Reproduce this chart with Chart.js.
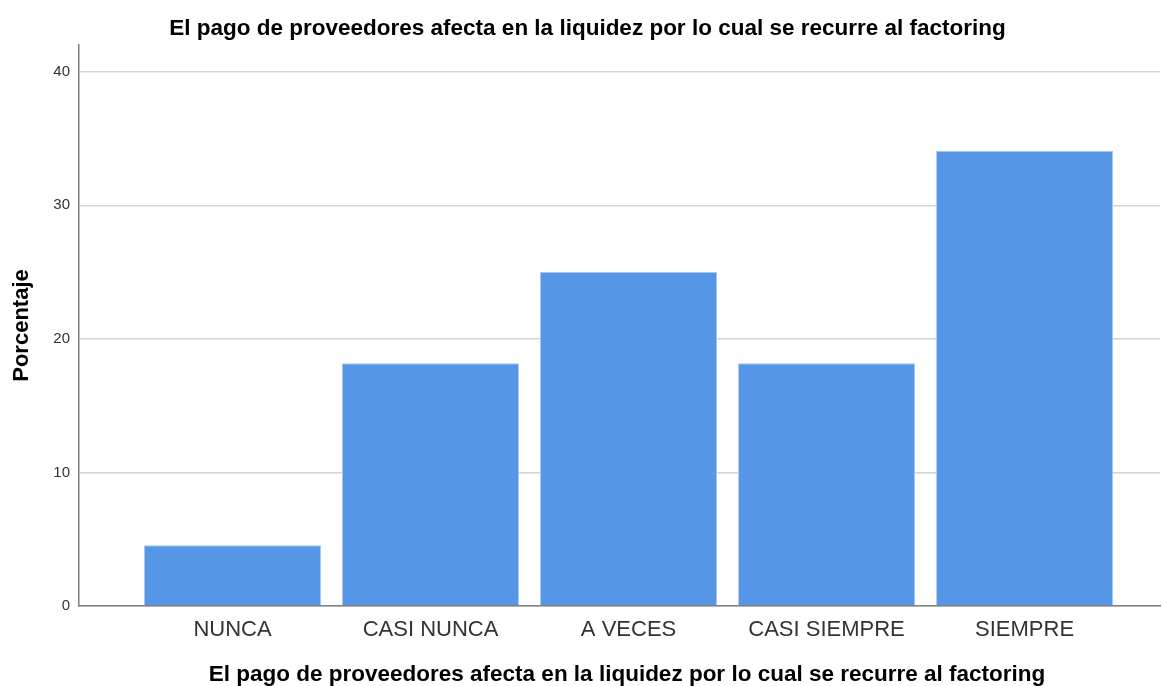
<!DOCTYPE html>
<html>
<head>
<meta charset="utf-8">
<script src="https://cdn.jsdelivr.net/npm/chart.js@4.4.1/dist/chart.umd.min.js"></script>
<style>
  html, body { margin: 0; padding: 0; background: #fff; }
  #wrap { width: 1163px; height: 686px; }
</style>
</head>
<body>
<div id="wrap"><canvas id="chart" width="1163" height="686"></canvas></div>
<script>
// datos (porcentaje, n = 44)
const categorias = ['NUNCA', 'CASI NUNCA', 'A VECES', 'CASI SIEMPRE', 'SIEMPRE'];
const porcentajes = [4.55, 18.18, 25.0, 18.18, 34.09];
const yTicks = [0, 10, 20, 30, 40];

const titulo = 'El pago de proveedores afecta en la liquidez por lo cual se recurre al factoring';
const fuente = '"Liberation Sans", Arial, sans-serif';

// barras en eje lineal para poder dejar el margen izquierdo como en SPSS
const puntos = categorias.map((c, i) => ({ x: i, y: porcentajes[i] }));

// SPSS centra los titulos un poco a la derecha
const moverTitulos = {
    id: 'moverTitulos',
    afterLayout(chart) {
        chart.boxes.forEach(b => {
            if (!b.options || b.options.text !== titulo) return;
            if (b.options.position === 'top') b.left += 15;
            if (b.options.position === 'bottom') b.left += 94;
        });
    }
};

new Chart(document.getElementById('chart'), {
    type: 'bar',
    data: {
        datasets: [{
            data: puntos,
            backgroundColor: '#5596e6',
            borderColor: '#a7c7f0',
            borderWidth: 1,
            categoryPercentage: 1,
            barPercentage: 0.894
        }]
    },
    plugins: [moverTitulos],
    options: {
        responsive: false,
        animation: false,
        events: [],
        layout: { padding: { left: 0, right: 3, top: 0, bottom: 0 } },
        plugins: {
            legend: { display: false },
            tooltip: { enabled: false },
            title: {
                display: true,
                text: titulo,
                color: '#000',
                font: { family: fuente, size: 22.5, weight: 'bold' },
                padding: { top: 14.8, bottom: 3.2 }
            },
            subtitle: {
                display: true,
                position: 'bottom',
                text: titulo,
                color: '#000',
                font: { family: fuente, size: 22.5, weight: 'bold', lineHeight: 1 },
                padding: { top: 0, bottom: 0 }
            }
        },
        scales: {
            x: {
                type: 'linear',
                offset: false,
                min: -0.7753,
                max: 4.684,
                afterBuildTicks: s => { s.ticks = categorias.map((c, i) => ({ value: i })); },
                afterFit: s => { s.height = 57.5; },
                grid: { display: false },
                border: { display: true, color: '#7f7f7f', width: 1.5 },
                ticks: {
                    callback: v => categorias[v] ?? '',
                    color: '#333',
                    font: { family: fuente, size: 22 },
                    padding: 3,
                    maxRotation: 0,
                    autoSkip: false
                }
            },
            y: {
                min: 0,
                max: 42,
                afterBuildTicks: s => { s.ticks = yTicks.map(v => ({ value: v })); },
                afterFit: s => { s.width = 79; },
                grid: {
                    color: '#d4d4d4',
                    lineWidth: 1.5,
                    drawTicks: false
                },
                border: { display: true, color: '#7f7f7f', width: 1.5 },
                ticks: {
                    color: '#333',
                    font: { family: fuente, size: 15 },
                    padding: 9
                },
                title: {
                    display: true,
                    text: 'Porcentaje',
                    color: '#000',
                    font: { family: fuente, size: 22, weight: 'bold' },
                    padding: { top: 9, bottom: 0 }
                }
            }
        }
    }
});
</script>
</body>
</html>
